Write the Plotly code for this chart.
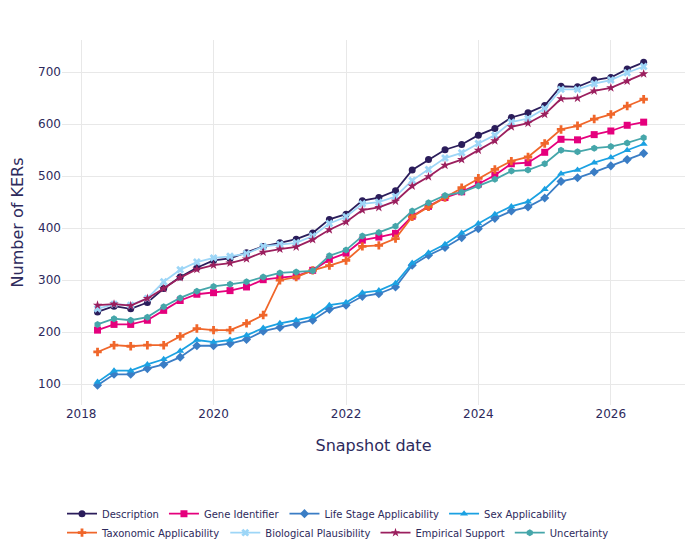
import pandas as pd
import plotly.graph_objects as go

# quarterly snapshots, 2018-04 .. 2026-07
snapshot_dates = pd.date_range("2018-04-01", periods=34, freq="QS")

description = [239, 250, 245, 257, 284, 306, 324, 338, 342, 353, 365, 372, 379, 391, 417, 427, 453,
               459, 472, 512, 532, 551, 561, 579, 592, 613, 622, 636, 673, 672, 685, 690, 706, 719]
gene_identifier = [204, 215, 215, 223, 242, 261, 273, 276, 280, 287, 301, 305, 308, 319, 340, 352, 377,
                   383, 390, 423, 442, 459, 470, 485, 502, 524, 526, 546, 571, 570, 580, 587, 598, 604]
life_stage = [98, 119, 119, 130, 138, 152, 174, 174, 178, 186, 202, 209, 215, 223, 244, 252, 269,
              274, 287, 329, 348, 363, 382, 399, 419, 433, 441, 458, 490, 497, 508, 520, 532, 544]
sex = [104, 126, 126, 138, 148, 164, 185, 181, 185, 194, 208, 217, 223, 230, 252, 257, 276,
       280, 294, 333, 353, 369, 391, 409, 427, 442, 451, 475, 505, 512, 526, 536, 550, 562]
taxonomic = [162, 175, 173, 175, 175, 192, 207, 204, 204, 217, 233, 300, 306, 319, 328, 338, 365,
             367, 380, 422, 441, 459, 478, 496, 513, 529, 537, 563, 590, 597, 610, 619, 635, 648]
biological_plausibility = [245, 254, 252, 265, 297, 320, 335, 343, 346, 351, 365, 369, 372, 385, 409, 422, 447,
                           450, 461, 492, 513, 535, 545, 563, 579, 604, 611, 630, 667, 667, 678, 685, 699, 711]
empirical_support = [252, 254, 251, 265, 284, 305, 321, 329, 333, 341, 354, 360, 364, 378, 397, 412, 435,
                     440, 452, 481, 499, 521, 532, 550, 568, 595, 602, 619, 649, 650, 664, 670, 683, 697]
uncertainty = [215, 226, 223, 229, 249, 266, 279, 288, 292, 297, 306, 314, 316, 318, 347, 358, 385,
               392, 404, 433, 449, 463, 469, 481, 494, 510, 512, 524, 550, 547, 554, 557, 564, 574]

# name, values, colour, marker, legend row
series = [
    ("Description", description, "#2b1d5b", "circle", "legend"),
    ("Gene Identifier", gene_identifier, "#e5007d", "square", "legend"),
    ("Life Stage Applicability", life_stage, "#3a7dc5", "diamond", "legend"),
    ("Sex Applicability", sex, "#1ba1e2", "triangle-up", "legend"),
    ("Taxonomic Applicability", taxonomic, "#f0662a", "cross", "legend2"),
    ("Biological Plausibility", biological_plausibility, "#9dd6f7", "x", "legend2"),
    ("Empirical Support", empirical_support, "#9b1f5e", "star", "legend2"),
    ("Uncertainty", uncertainty, "#45a6aa", "hexagon", "legend2"),
]

text_color = "#2d2a5c"
grid_color = "#e8e8e8"

fig = go.Figure()
for name, values, color, symbol, legend in series:
    fig.add_trace(go.Scatter(
        x=snapshot_dates, y=values, name=name, mode="lines+markers",
        line=dict(color=color, width=1.8),
        marker=dict(color=color, symbol=symbol, size=7),
        legend=legend,
    ))

legend_style = dict(orientation="h", x=0, xanchor="left", yanchor="top",
                    font=dict(size=10, color=text_color), bgcolor="rgba(0,0,0,0)")

fig.update_layout(
    template="plotly_white",
    width=700, height=560,
    margin=dict(l=54, r=23, t=32, b=163),
    font=dict(family="DejaVu Sans", size=12, color=text_color),
    xaxis=dict(title=dict(text="Snapshot date", font=dict(size=16), standoff=19),
               range=["2017-09-17", "2027-02-14"], dtick="M24", tickformat="%Y",
               gridcolor=grid_color, showline=False, zeroline=False, automargin=False),
    yaxis=dict(title=dict(text="Number of KERs", font=dict(size=16)),
               range=[60, 762], dtick=100, gridcolor=grid_color,
               zeroline=False, automargin=False),
    legend=dict(y=-0.258, **legend_style),
    legend2=dict(y=-0.31, **legend_style),
)

fig.write_html("out.html")
